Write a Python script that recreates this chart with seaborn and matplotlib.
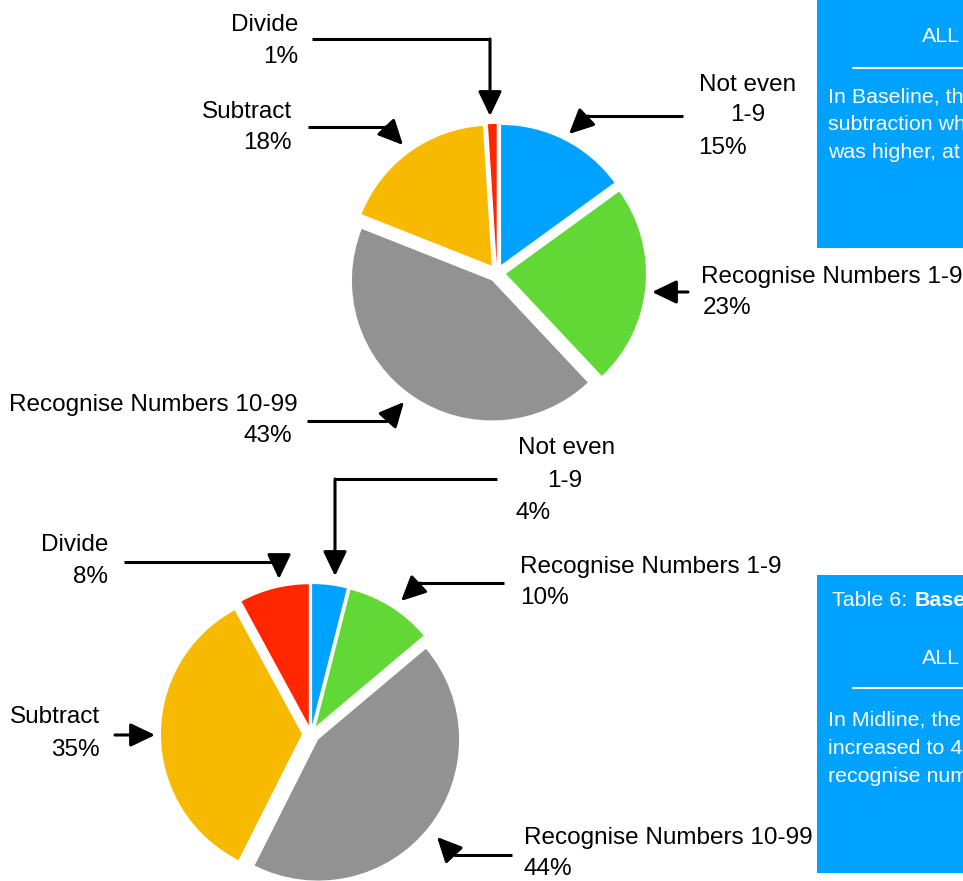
import matplotlib
matplotlib.use("Agg")
import matplotlib.pyplot as plt
import seaborn as sns

# ---- data ----------------------------------------------------------------
categories = ["Not even 1-9", "Recognise Numbers 1-9", "Recognise Numbers 10-99",
              "Subtract", "Divide"]
baseline_pct = [15, 23, 43, 18, 1]
midline_pct = [4, 10, 44, 35, 8]
slice_colors = ["#00A2FF", "#61D836", "#929292", "#F8BA00", "#FF2600"]

sns.set_theme(style="white")
plt.rcParams["font.family"] = ["Liberation Sans", "DejaVu Sans"]

W, H = 963, 881
fig = plt.figure(figsize=(W / 100, H / 100), dpi=100)
ax = fig.add_axes([0, 0, 1, 1])
palette = sns.color_palette(slice_colors)

LABEL_FS = 17.5
BOX_FS = 15.4
BOX_BLUE = "#00A2FF"


def draw_pie(values, center, radius, gap):
    # y axis runs downward, so counter-clockwise in data reads clockwise on screen
    ax.pie(values, colors=palette, center=center, radius=radius,
           startangle=-90, counterclock=True, explode=[gap] * len(values),
           wedgeprops=dict(linewidth=0), normalize=True)


draw_pie(baseline_pct, (497, 273), 140, 9)
draw_pie(midline_pct, (311, 734), 141, 9)


def callout(points):
    """Poly-line leader ending with a filled arrow head."""
    xs = [p[0] for p in points[:-1]]
    ys = [p[1] for p in points[:-1]]
    if len(xs) > 1:
        ax.plot(xs, ys, color="black", lw=2.2, solid_capstyle="butt",
                solid_joinstyle="miter")
    ax.annotate("", xy=points[-1], xytext=points[-2],
                arrowprops=dict(arrowstyle="-|>,head_length=0.75,head_width=0.36",
                                color="black", lw=2.2, shrinkA=0, shrinkB=0,
                                mutation_scale=20))


def label(x, y, s, ha="left", **kw):
    ax.text(x, y, s, ha=ha, va="center", fontsize=LABEL_FS, color="black", **kw)


# ---- baseline pie labels -------------------------------------------------
label(298, 25, "Divide", ha="right")
label(298, 57, f"{baseline_pct[4]}%", ha="right")
callout([(312, 39), (490, 39), (490, 116)])

label(292, 112, "Subtract", ha="right")
label(292, 143, f"{baseline_pct[3]}%", ha="right")
callout([(308, 127), (386, 127), (403, 145)])

label(748, 85, "Not even", ha="center")
label(748, 115, "1-9", ha="center")
label(698, 148, f"{baseline_pct[0]}%")
callout([(683, 116), (588, 116), (569, 134)])

label(701, 277, "Recognise Numbers 1-9")
label(703, 308, f"{baseline_pct[1]}%")
callout([(688, 292), (652, 292)])

label(298, 405, "Recognise Numbers 10-99", ha="right")
label(292, 436, f"{baseline_pct[2]}%", ha="right")
callout([(307, 421), (387, 421), (404, 402)])

# ---- midline pie labels --------------------------------------------------
label(518, 448, "Not even")
label(565, 481, "1-9", ha="center")
label(515, 513, f"{midline_pct[0]}%")
callout([(497, 479), (335, 479), (335, 576)])

label(108, 545, "Divide", ha="right")
label(108, 577, f"{midline_pct[4]}%", ha="right")
callout([(124, 562), (279, 562), (279, 579)])

label(520, 567, "Recognise Numbers 1-9")
label(520, 598, f"{midline_pct[1]}%")
callout([(504, 583), (420, 583), (401, 601)])

label(100, 717, "Subtract", ha="right")
label(100, 750, f"{midline_pct[3]}%", ha="right")
callout([(115, 735), (155, 735)])

label(524, 838, "Recognise Numbers 10-99")
label(524, 869, f"{midline_pct[2]}%")
callout([(512, 855), (454, 855), (437, 837)])

# ---- commentary boxes on the right ---------------------------------------
ax.add_patch(plt.Rectangle((817, -5), 160, 253, color=BOX_BLUE, lw=0, zorder=0))
ax.add_patch(plt.Rectangle((817, 575), 160, 298, color=BOX_BLUE, lw=0, zorder=0))


def box_text(x, y, s, **kw):
    ax.text(x, y, s, ha="left", va="center", fontsize=BOX_FS, color="white", **kw)


box_text(922, 37, "ALL")
ax.plot([853, 970], [68, 68], color="white", lw=1.5)
box_text(828, 97, "In Baseline, the")
box_text(828, 125, "subtraction which")
box_text(828, 152, "was higher, at")

box_text(832, 600, "Table 6:")
box_text(915, 600, "Baseline", fontweight="bold")
box_text(922, 658, "ALL")
ax.plot([853, 970], [688, 688], color="white", lw=1.5)
box_text(828, 720, "In Midline, the")
box_text(828, 748, "increased to 4")
box_text(828, 777, "recognise numbers")

ax.set_xlim(0, W)
ax.set_ylim(H, 0)
ax.set_aspect("equal", adjustable="box")
ax.axis("off")

fig.savefig("out.png", dpi=100, facecolor="white")
